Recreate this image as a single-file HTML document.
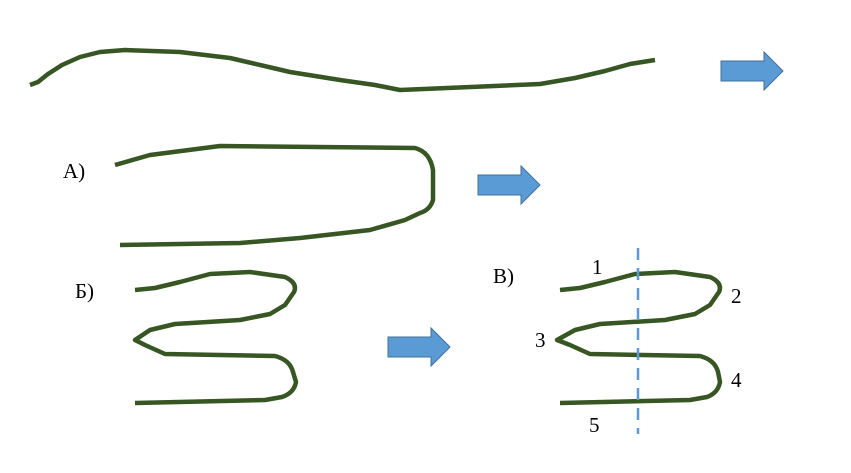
<!DOCTYPE html>
<html><head><meta charset="utf-8"><style>
html,body{margin:0;padding:0;background:#fff;width:851px;height:473px;overflow:hidden}
svg{display:block}
text{font-family:"Liberation Serif",serif;font-size:21px;fill:#000}
</style></head><body>
<svg width="851" height="473" viewBox="0 0 851 473">
<g fill="none" stroke="#375623" stroke-width="4.5" stroke-linejoin="round" stroke-linecap="butt">
<path d="M30,85 L38,82 L48,74 L62,65 L80,57 L100,52 L125,50 L180,52 L230,58 L290,72 L340,80 L375,85 L400,90 L540,84 L575,78 L605,71 L630,64 L655,60"/>
<path d="M115,165 L150,155 L220,146 L415,148 Q430,152 433,170 L433,200 Q430,210 420,213 L405,220 L370,230 L300,238 L240,243 L120,245"/>
<path d="M135,290 L155,288 L180,282 L210,274 L250,272 L285,277 Q298,283 294,292 L285,305 L270,314 L240,320 L175,324 L150,330 L135,340 L145,345 L165,354 L275,356 Q290,360 293,372 L296,382 Q294,393 282,397 L265,400 L135,403"/>
<path d="M560,290 L580,288 L605,282 L635,274 L675,272 L710,277 Q723,283 719,292 L710,305 L695,314 L665,320 L600,324 L575,330 L557,340 L570,345 L590,354 L700,356 Q715,360 718,372 L720,382 Q718,393 707,397 L690,400 L560,403"/>
</g>
<line x1="638" y1="248" x2="638" y2="434" stroke="#5b9bd5" stroke-width="2.5" stroke-dasharray="12,8"/>
<g fill="#5b9bd5" stroke="#41719c" stroke-width="1">
<path d="M721,61 L764,61 L764,52 L783,71 L764,90 L764,81 L721,81 Z"/>
<path d="M478,175 L521,175 L521,166 L540,185 L521,204 L521,195 L478,195 Z"/>
<path d="M388,337 L431,337 L431,328 L450,347 L431,366 L431,357 L388,357 Z"/>
</g>
<text x="63" y="178">А)</text>
<text x="75" y="298">Б)</text>
<text x="493" y="283">В)</text>
<text x="592" y="274">1</text>
<text x="731" y="303">2</text>
<text x="535" y="347">3</text>
<text x="731" y="387">4</text>
<text x="589" y="432">5</text>
</svg>
</body></html>
